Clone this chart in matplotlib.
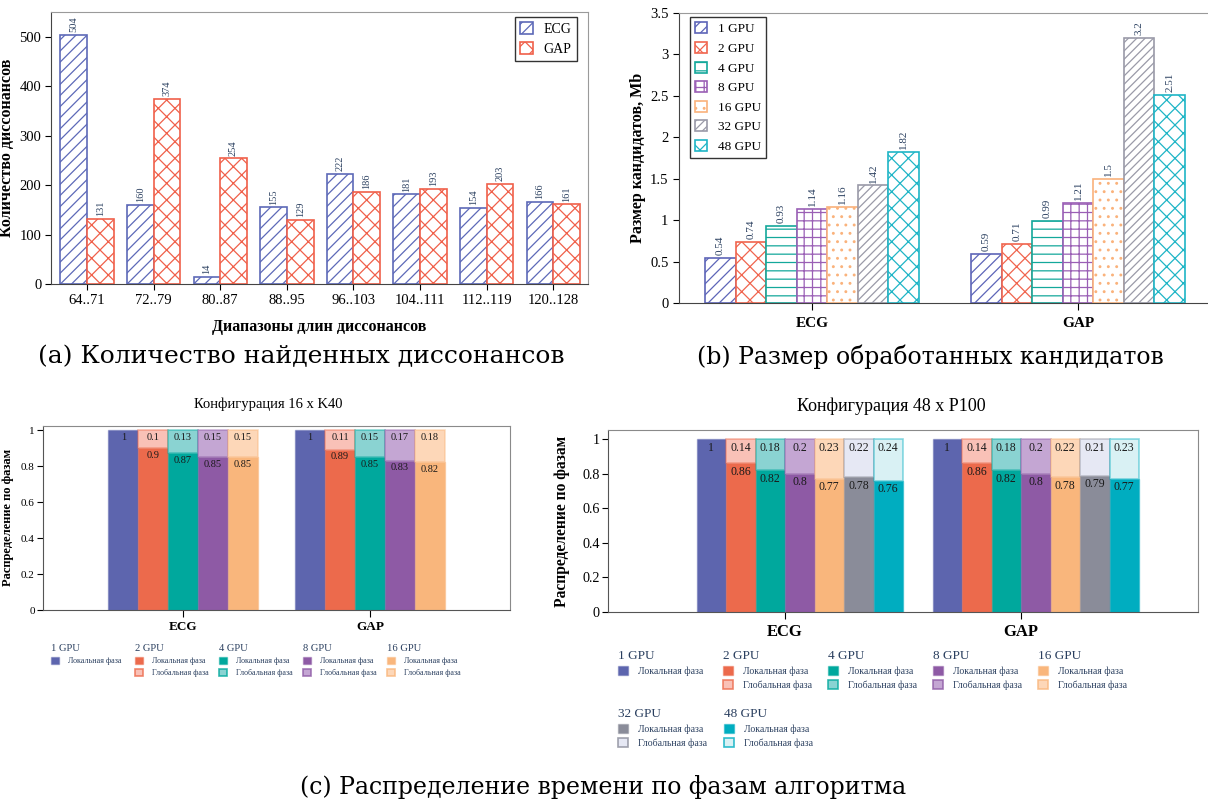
import numpy as np
import matplotlib.pyplot as plt
from matplotlib.patches import Patch
from matplotlib.colors import to_rgba

plt.rcParams['font.family'] = ['Liberation Serif', 'DejaVu Serif']
plt.rcParams['hatch.linewidth'] = 0.9

W, H = 1208, 802
TXT = '#2a3f5f'

# (a) number of discords by length range
ranges = ['64..71', '72..79', '80..87', '88..95', '96..103', '104..111', '112..119', '120..128']
ecg_counts = [504, 160, 14, 155, 222, 181, 154, 166]
gap_counts = [131, 374, 254, 129, 186, 193, 203, 161]

# (b) size of processed candidates, Mb
datasets = ['ECG', 'GAP']
gpu_labels = ['1 GPU', '2 GPU', '4 GPU', '8 GPU', '16 GPU', '32 GPU', '48 GPU']
size_ecg = [0.54, 0.74, 0.93, 1.14, 1.16, 1.42, 1.82]
size_gap = [0.59, 0.71, 0.99, 1.21, 1.5, 3.2, 2.51]

# (c) phase shares, 16 x K40
k40_gpus = ['1 GPU', '2 GPU', '4 GPU', '8 GPU', '16 GPU']
k40_local_ecg = [1, 0.9, 0.87, 0.85, 0.85]
k40_global_ecg = [0, 0.1, 0.13, 0.15, 0.15]
k40_local_gap = [1, 0.89, 0.85, 0.83, 0.82]
k40_global_gap = [0, 0.11, 0.15, 0.17, 0.18]

# (c) phase shares, 48 x P100
p100_gpus = ['1 GPU', '2 GPU', '4 GPU', '8 GPU', '16 GPU', '32 GPU', '48 GPU']
p100_local_ecg = [1, 0.86, 0.82, 0.8, 0.77, 0.78, 0.76]
p100_global_ecg = [0, 0.14, 0.18, 0.2, 0.23, 0.22, 0.24]
p100_local_gap = [1, 0.86, 0.82, 0.8, 0.78, 0.79, 0.77]
p100_global_gap = [0, 0.14, 0.18, 0.2, 0.22, 0.21, 0.23]

phase_names = ['Локальная фаза', 'Глобальная фаза']

hatch_colors = ['#5D65B8', '#F0654E', '#14A89B', '#9A5FB5', '#FAB27B', '#9A9AA8', '#1FB5C6']
hatches = ['///', 'xx', '--', '++', '..', '////', 'xx']
main = ['#5D65AE', '#EC6A4C', '#00A89D', '#8E5AA5', '#F9B67C', '#8A8C99', '#00ADC0']
light = ['#C9CCE8', '#F9C1B7', '#8AD3D2', '#C4A6D3', '#FDD7B8', '#E6E8F4', '#D9F1F4']


def box(l, t, r, b):
    return [l / W, 1 - b / H, (r - l) / W, (b - t) / H]


fig = plt.figure(figsize=(W / 100, H / 100), dpi=100)

# ---------- (a)
ax = fig.add_axes(box(51, 12, 588, 284))
x = np.arange(len(ranges))
b1 = ax.bar(x - 0.2, ecg_counts, 0.4, facecolor='white', edgecolor='#5D69B8',
            hatch='///', lw=1.2, label='ECG')
b2 = ax.bar(x + 0.2, gap_counts, 0.4, facecolor='white', edgecolor='#F0604A',
            hatch='xx', lw=1.2, label='GAP')
for b in (b1, b2):
    ax.bar_label(b, rotation=90, padding=2, fontsize=7.5, color=TXT)
ax.set_xlim(-0.54, 7.52)
ax.set_ylim(0, 550)
ax.set_xticks(x)
ax.set_xticklabels(ranges)
ax.set_yticks(np.arange(0, 501, 100))
ax.tick_params(direction='out', length=4, width=0.8, labelsize=10.5, pad=3)
ax.set_ylabel('Количество диссонансов', fontsize=11.5, fontweight='bold')
ax.set_xlabel('Диапазоны длин диссонансов', fontsize=11.5, fontweight='bold')
ax.yaxis.set_label_coords(-0.067, 0.5)
ax.xaxis.set_label_coords(0.5, -0.128)
for s in ['top', 'right']:
    ax.spines[s].set_color('#9a9a9a')
for s in ['left', 'bottom']:
    ax.spines[s].set_color('#444444')
leg = ax.legend(loc='upper right', bbox_to_anchor=(0.98, 0.982), fontsize=10,
                fancybox=False, edgecolor='black', handlelength=0.9, handleheight=0.9,
                borderaxespad=0, labelspacing=0.45)
leg.get_frame().set_linewidth(1.0)

# ---------- (b)
ax = fig.add_axes(box(679, 13, 1211, 303))
gx = np.arange(len(datasets))
bw = 0.115
for k, gpu in enumerate(gpu_labels):
    vals = [size_ecg[k], size_gap[k]]
    b = ax.bar(gx + (k - 3) * bw, vals, bw, facecolor='white', edgecolor=hatch_colors[k],
               hatch=hatches[k], lw=1.2, label=gpu)
    ax.bar_label(b, rotation=90, padding=2, fontsize=8, color=TXT)
ax.set_xlim(-0.5, 1.5)
ax.set_ylim(0, 3.5)
yt = np.arange(0, 3.51, 0.5)
ax.set_yticks(yt)
ax.set_yticklabels([f'{t:g}' for t in yt])
ax.set_xticks(gx)
ax.set_xticklabels(datasets, fontweight='bold', fontsize=11)
ax.tick_params(axis='y', direction='out', length=4, labelsize=10.5)
ax.tick_params(axis='x', direction='out', length=5, pad=5)
ax.set_ylabel('Размер кандидатов, Mb', fontsize=11.5, fontweight='bold')
ax.yaxis.set_label_coords(-0.062, 0.5)
ax.spines['top'].set_color('#9a9a9a')
ax.spines['right'].set_visible(False)
for s in ['left', 'bottom']:
    ax.spines[s].set_color('#444444')
leg = ax.legend(loc='upper left', bbox_to_anchor=(0.021, 0.986), fontsize=9.5,
                fancybox=False, edgecolor='black', handlelength=0.9, handleheight=0.9,
                borderaxespad=0, labelspacing=0.5)
leg.get_frame().set_linewidth(1.0)


# ---------- (c)
def phase_panel(rect, ytop, gpus, loc_ecg, glo_ecg, loc_gap, glo_gap, width, offsets,
                fs_val, fs_tick, fs_grp, fs_ylab, ylab_x, grp_pad):
    ax = fig.add_axes(rect)
    for k in range(len(gpus)):
        loc = np.array([loc_ecg[k], loc_gap[k]])
        glo = np.array([glo_ecg[k], glo_gap[k]])
        xs = gx + offsets[k]
        ax.bar(xs, loc, width, color=main[k], edgecolor=to_rgba(main[k], 0.45), lw=1)
        if glo.any():
            ax.bar(xs, glo, width, bottom=loc, color=light[k],
                   edgecolor=to_rgba(main[k], 0.45), lw=1.2)
        for xi, lv, gv in zip(xs, loc, glo):
            ax.text(xi, lv - 0.014, f'{lv:g}', ha='center', va='top',
                    fontsize=fs_val, color='#1a1a1a')
            if gv > 0:
                ax.text(xi, lv + gv - 0.014, f'{gv:g}', ha='center', va='top',
                        fontsize=fs_val, color='#1a1a1a')
    ax.set_xlim(-0.75, 1.75)
    ax.set_ylim(0, ytop)
    yt = np.arange(0, 1.01, 0.2)
    ax.set_yticks(yt)
    ax.set_yticklabels([f'{t:g}' for t in yt])
    ax.set_xticks(gx)
    ax.set_xticklabels(datasets, fontweight='bold', fontsize=fs_grp)
    ax.tick_params(axis='y', direction='out', length=4, labelsize=fs_tick, pad=2)
    ax.tick_params(axis='x', direction='out', length=5, pad=grp_pad)
    ax.set_ylabel('Распределение по фазам', fontsize=fs_ylab, fontweight='bold')
    ax.yaxis.set_label_coords(ylab_x, 0.5)
    for s in ['top', 'right']:
        ax.spines[s].set_color('#8a8a8a')
    for s in ['left', 'bottom']:
        ax.spines[s].set_color('#555555')
    return ax


def phase_legend(k, x_px, y_px, tfs, fs):
    handles = [Patch(facecolor=main[k], edgecolor=to_rgba(main[k], 0.45), lw=1)]
    labels = [phase_names[0]]
    if k > 0:
        handles.append(Patch(facecolor=light[k], edgecolor=to_rgba(main[k], 0.8), lw=1.2))
        labels.append(phase_names[1])
    lg = fig.legend(handles, labels, title=gpu_labels[k], loc='upper left',
                    bbox_to_anchor=(x_px / W, 1 - y_px / H), frameon=False,
                    alignment='left', title_fontsize=tfs, fontsize=fs, labelcolor=TXT,
                    handlelength=1.05, handleheight=1.0, handletextpad=1.0,
                    labelspacing=0.45, borderpad=0, borderaxespad=0)
    lg.get_title().set_color(TXT)


# 16 x K40
phase_panel(box(43, 425.5, 510, 610), 1.025, k40_gpus,
            k40_local_ecg, k40_global_ecg, k40_local_gap, k40_global_gap,
            0.16, [(k - 2) * 0.16 for k in range(len(k40_gpus))],
            7.5, 8, 9.5, 9, -0.062, 3)
fig.text(268 / W, 1 - 404 / H, 'Конфигурация 16 x K40', ha='center', va='center',
         fontsize=10.5)
for k in range(len(k40_gpus)):
    phase_legend(k, 51 + 84 * k, 644, 7.6, 5.8)

# 48 x P100
phase_panel(box(608, 430, 1198, 612), 1.054, p100_gpus,
            p100_local_ecg, p100_global_ecg, p100_local_gap, p100_global_gap,
            0.125, [-0.5 + (k + 1.5) * 0.125 for k in range(len(p100_gpus))],
            8.5, 10.2, 12, 11.2, -0.064, 4)
fig.text(891 / W, 1 - 406 / H, 'Конфигурация 48 x P100', ha='center', va='center',
         fontsize=13)
for k in range(5):
    phase_legend(k, 618 + 105 * k, 650, 9.5, 7)
for j, k in enumerate(range(5, 7)):
    phase_legend(k, 618 + 106 * j, 708, 9.5, 7)

# captions
fig.text(301 / W, 1 - 357 / H, '(a) Количество найденных диссонансов', ha='center',
         va='center', fontsize=18, family='DejaVu Serif')
fig.text(930 / W, 1 - 357 / H, '(b) Размер обработанных кандидатов', ha='center',
         va='center', fontsize=17, family='DejaVu Serif')
fig.text(603 / W, 1 - 787 / H, '(c) Распределение времени по фазам алгоритма',
         ha='center', va='center', fontsize=17, family='DejaVu Serif')

fig.savefig('out.png', dpi=100)
